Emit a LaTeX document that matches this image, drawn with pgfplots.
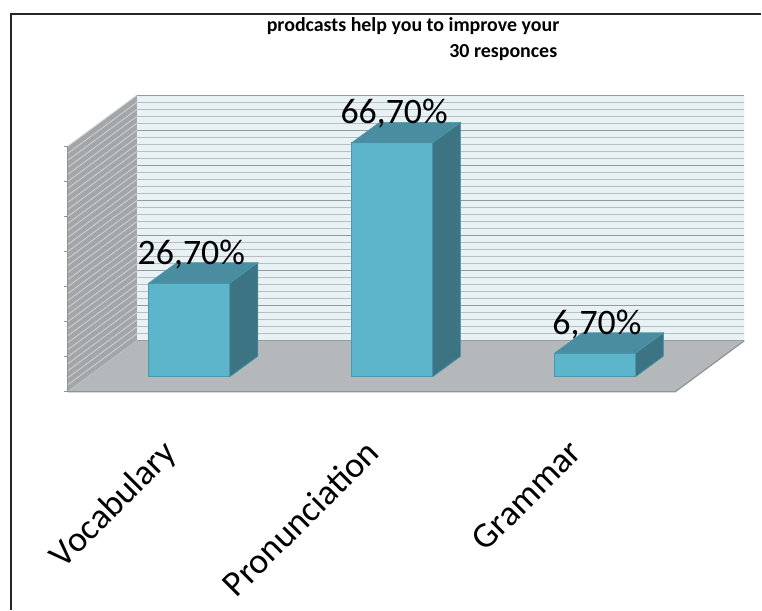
\documentclass[border=0pt]{standalone}
\usepackage{pgfplots}
\pgfplotsset{compat=1.18}
\usepackage{fontspec}
\setmainfont{Carlito}
\definecolor{wallbg}{HTML}{E8F1F4}
\definecolor{wallminor}{HTML}{B8BDC0}
\definecolor{wallmajor}{HTML}{959A9D}
\definecolor{sidebg}{HTML}{A2A6A8}
\definecolor{sideline}{HTML}{CDD0D2}
\definecolor{floorc}{HTML}{B4B8BB}
\definecolor{flooredge}{HTML}{8E9396}
\definecolor{barfront}{HTML}{5DB5CC}
\definecolor{bartop}{HTML}{4A8DA0}
\definecolor{barside}{HTML}{3D7483}
\definecolor{baredge}{HTML}{4A98AE}
\begin{document}
\begin{tikzpicture}
\begin{axis}[
  scale only axis, width=762bp, height=463bp,
  xmin=-0.93350, xmax=2.82020, ymin=-24.5, ymax=107.407,
  axis line style={draw=none},
  major tick length=0pt,
  ytick=\empty,
  xtick={0,1,2},
  xticklabels={Vocabulary,Pronunciation,Grammar},
  xticklabel style={xshift=-11bp, yshift=8bp, rotate=45, anchor=base east, inner sep=0pt, font=\fontsize{36}{40}\selectfont},
  clip=false,
]
\path (axis cs:-0.9335,-66.38) rectangle (axis cs:2.8202,107.407);
% back wall
\addplot[fill=wallbg, draw=none] coordinates {(-0.2586,10.26) (2.7365,10.26) (2.7365,80.26) (-0.2586,80.26) (-0.2586,10.26)};
\pgfplotsinvokeforeach{0,...,35}{
  \draw[wallminor, line width=1.3bp] (axis cs:-0.2586,{10.26+2*#1}) -- (axis cs:2.7365,{10.26+2*#1});
}
\pgfplotsinvokeforeach{0,...,7}{
  \draw[wallmajor, line width=1.5bp] (axis cs:-0.2586,{10.26+10*#1}) -- (axis cs:2.7365,{10.26+10*#1});
}
% left wall
\addplot[fill=sidebg, draw=none] coordinates {(-0.5985,-4.27) (-0.2586,10.26) (-0.2586,80.26) (-0.5985,65.73) (-0.5985,-4.27)};
\pgfplotsinvokeforeach{0,...,35}{
  \draw[sideline, line width=0.9bp] (axis cs:-0.5985,{-4.27+2*#1}) -- (axis cs:-0.2586,{10.26+2*#1});
}
\draw[flooredge, line width=1bp] (axis cs:-0.5985,-4.27) -- (axis cs:-0.5985,65.73);
\pgfplotsinvokeforeach{0,...,7}{
  \draw[flooredge, line width=1bp] (axis cs:-0.5985,{-4.27+10*#1}) -- (axis cs:-0.6185,{-4.27+10*#1});
}
% floor
\addplot[fill=floorc, draw=none] coordinates {(-0.5985,-4.27) (2.3966,-4.27) (2.7365,10.26) (-0.2586,10.26) (-0.5985,-4.27)};
\draw[flooredge, line width=1.2bp] (axis cs:-0.5985,-4.27) -- (axis cs:2.3966,-4.27) -- (axis cs:2.7365,10.26);
% bars: front faces
\addplot[ybar, bar width=0.4, bar shift=0pt, fill=barfront, draw=baredge, line width=0.8bp] coordinates {(0,26.7) (1,66.7) (2,6.7)};
% top faces
\addplot[fill=bartop, draw=baredge, line width=0.6bp] coordinates {(-0.2,26.7) (0.2,26.7) (0.338,32.54) (-0.062,32.54) (-0.2,26.7)};
\addplot[fill=bartop, draw=baredge, line width=0.6bp] coordinates {(0.8,66.7) (1.2,66.7) (1.338,72.54) (0.938,72.54) (0.8,66.7)};
\addplot[fill=bartop, draw=baredge, line width=0.6bp] coordinates {(1.8,6.7) (2.2,6.7) (2.338,12.54) (1.938,12.54) (1.8,6.7)};
% side faces
\addplot[fill=barside, draw=baredge, line width=0.6bp] coordinates {(0.2,0) (0.338,5.84) (0.338,32.54) (0.2,26.7) (0.2,0)};
\addplot[fill=barside, draw=baredge, line width=0.6bp] coordinates {(1.2,0) (1.338,5.84) (1.338,72.54) (1.2,66.7) (1.2,0)};
\addplot[fill=barside, draw=baredge, line width=0.6bp] coordinates {(2.2,0) (2.338,5.84) (2.338,12.54) (2.2,6.7) (2.2,0)};
% data labels
\addplot[draw=none, nodes near coords, point meta=explicit symbolic,
  nodes near coords style={font=\fontsize{36}{40}\selectfont, anchor=center, yshift=29bp, xshift=2bp, inner sep=0pt}]
  coordinates {(0,26.7) [26,70\%] (1,66.7) [66,70\%] (2,6.7) [6,70\%]};
% title
\node[anchor=base east, font=\bfseries\fontsize{20}{22}\selectfont, inner sep=0pt] at (axis cs:1.825,98.58) {prodcasts help you to improve your};
\node[anchor=base east, font=\bfseries\fontsize{20}{22}\selectfont, inner sep=0pt] at (axis cs:1.815,91.17) {30 responces};
% frame
\draw[line width=1.5bp, black!85] (axis cs:-0.8793,-66.38) -- (axis cs:-0.8793,103.42) -- (axis cs:2.8202,103.42);
\end{axis}
\end{tikzpicture}
\end{document}
